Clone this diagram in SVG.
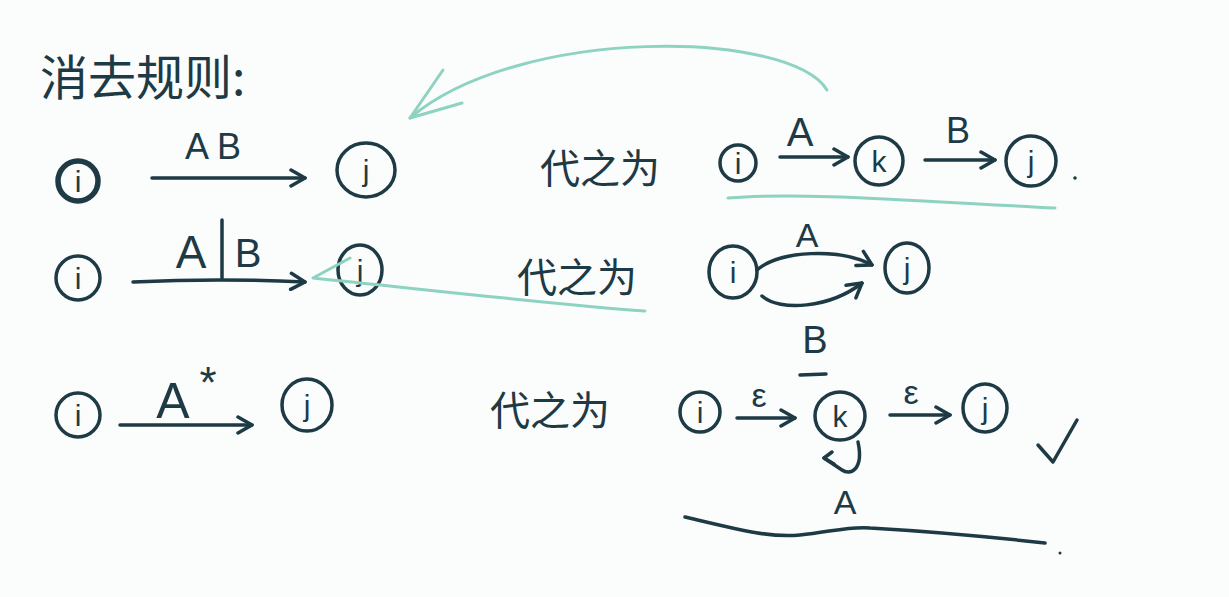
<svg xmlns="http://www.w3.org/2000/svg" width="1229" height="597" viewBox="0 0 1229 597">
<style>
.ink{fill:none;stroke:#1d3a45;stroke-width:3.5;stroke-linecap:round;stroke-linejoin:round}
.node{fill:none;stroke:#1d3a45;stroke-width:3.5}
.thick{stroke-width:5.5}
.lbl{font-family:"Liberation Sans","Noto Sans",sans-serif;fill:#1d3a45;text-anchor:middle}
.nl{font-family:"Liberation Sans","Noto Sans",sans-serif;fill:#1d3a45;text-anchor:middle;font-size:30px}
.cjk{font-family:"Noto Sans CJK SC","Noto Sans",sans-serif;fill:#1d3a45}
.green{fill:none;stroke:#8ed2c1;stroke-width:3;stroke-linecap:round;stroke-linejoin:round}
</style>
<defs>
<marker id="ah" viewBox="0 0 20 20" refX="18" refY="10" markerWidth="20" markerHeight="20" markerUnits="userSpaceOnUse" orient="auto">
<path d="M4,2 L18,10 L4,18" fill="none" stroke="#1d3a45" stroke-width="3.5" stroke-linecap="round" stroke-linejoin="round"/>
</marker>
</defs>
<rect width="1229" height="597" fill="#fbfcfc"/>

<g id="title">
<text class="cjk" x="40" y="95" font-size="48">消去规则:</text>
</g>

<!-- Row 1 -->
<g id="r1-i"><circle class="node thick" cx="78" cy="181" r="20"/><text class="nl" x="78" y="192">i</text></g>
<g id="r1-j"><ellipse class="node" cx="366" cy="170" rx="29" ry="27"/><text class="nl" x="366" y="181">j</text></g>
<g id="r1-text"><text class="cjk" x="540" y="183" font-size="40">代之为</text></g>
<g id="r1-i2"><circle class="node" cx="738" cy="163" r="18"/><text class="nl" x="738" y="174">i</text></g>
<g id="r1-k"><circle class="node" cx="879" cy="161" r="24"/><text class="nl" x="879" y="172">k</text></g>
<g id="r1-j2"><circle class="node" cx="1031" cy="161" r="25"/><text class="nl" x="1031" y="172">j</text></g>

<!-- Row 2 -->
<g id="r2-i"><circle class="node" cx="78" cy="278" r="22"/><text class="nl" x="78" y="289">i</text></g>
<g id="r2-j"><ellipse class="node" cx="360" cy="270" rx="22" ry="25"/><text class="nl" x="360" y="281">j</text></g>
<g id="r2-text"><text class="cjk" x="517" y="292" font-size="40">代之为</text></g>
<g id="r2-i2"><ellipse class="node" cx="733" cy="272" rx="24" ry="26"/><text class="nl" x="733" y="283">i</text></g>
<g id="r2-j2"><ellipse class="node" cx="907" cy="268" rx="22" ry="25"/><text class="nl" x="907" y="279">j</text></g>

<!-- Row 3 -->
<g id="r3-i"><circle class="node" cx="78" cy="415" r="22"/><text class="nl" x="78" y="426">i</text></g>
<g id="r3-j"><ellipse class="node" cx="307" cy="405" rx="25" ry="26"/><text class="nl" x="307" y="416">j</text></g>
<g id="r3-text"><text class="cjk" x="490" y="425" font-size="40">代之为</text></g>
<g id="r3-i2"><circle class="node" cx="700" cy="412" r="20"/><text class="nl" x="700" y="423">i</text></g>
<g id="r3-k"><ellipse class="node" cx="840" cy="416" rx="25" ry="24"/><text class="nl" x="840" y="427">k</text></g>
<g id="r3-j2"><ellipse class="node" cx="985" cy="408" rx="22" ry="24"/><text class="nl" x="985" y="419">j</text></g>

<g id="connectors">
<!-- row 1 -->
<path class="ink" d="M152,178 L305,178" marker-end="url(#ah)"/>
<text class="lbl" x="213" y="159" font-size="36">A B</text>
<path class="ink" d="M780,157 L848,157" marker-end="url(#ah)"/>
<text class="lbl" x="800" y="146" font-size="40">A</text>
<path class="ink" d="M925,160 L995,160" marker-end="url(#ah)"/>
<text class="lbl" x="958" y="143" font-size="36">B</text>
<!-- row 2 -->
<path class="ink" d="M133,282 Q220,278 305,282" marker-end="url(#ah)"/>
<text class="lbl" x="191" y="268" font-size="46">A</text>
<text class="lbl" x="248" y="267" font-size="40">B</text>
<path class="ink" d="M222,220 L222,278"/>
<path class="ink" d="M757,270 C780,250 840,248 872,265" marker-end="url(#ah)"/>
<text class="lbl" x="807" y="247" font-size="34">A</text>
<path class="ink" d="M762,296 C780,312 830,308 862,283" marker-end="url(#ah)"/>
<text class="lbl" x="815" y="353" font-size="38">B</text>
<!-- row 3 -->
<path class="ink" d="M120,425 L252,425" marker-end="url(#ah)"/>
<text class="lbl" x="173" y="418" font-size="50">A</text>
<text class="lbl" x="208" y="398" font-size="44">*</text>
<path class="ink" d="M737,418 L795,418" marker-end="url(#ah)"/>
<text class="lbl" x="759" y="407" font-size="34">ε</text>
<path class="ink" d="M800,375 L826,374"/>
<path class="ink" d="M890,415 L950,415" marker-end="url(#ah)"/>
<text class="lbl" x="911" y="404" font-size="34">ε</text>
<path class="ink" d="M858,442 C864,470 850,476 842,470 C836,466 830,462 824,458" />
<path class="ink" d="M832,452 L824,458 L834,464"/>
<text class="lbl" x="845" y="514" font-size="34">A</text>
<path class="ink" d="M1038,445 L1053,462 L1077,420"/>
<path class="ink" d="M685,517 C740,530 770,538 800,535 C830,532 850,526 870,528 C940,532 1000,538 1045,543"/>
<circle cx="1075" cy="178" r="1.8" fill="#1d3a45"/>
<circle cx="1060" cy="553" r="1.5" fill="#1d3a45"/>
<!-- green annotations -->
<path class="green" d="M827,90 C790,30 520,25 410,118"/>
<path class="green" d="M443,70 L410,118 L462,103"/>
<path class="green" d="M728,198 C800,192 900,200 1055,208"/>
<path class="green" d="M645,311 C560,305 430,290 313,278 L350,258"/>
</g>
</svg>
